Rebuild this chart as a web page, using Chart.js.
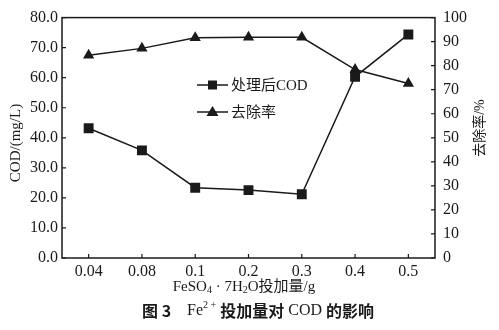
<!DOCTYPE html>
<html><head><meta charset="utf-8">
<script src="https://cdn.jsdelivr.net/npm/chart.js@4"></script>
<style>html,body{margin:0;padding:0;background:#fff}canvas{display:block}</style>
</head><body>
<canvas id="c" width="499" height="330"></canvas>
<script>
const categories = ['0.04', '0.08', '0.1', '0.2', '0.3', '0.4', '0.5'];
const codValues = [43.2, 35.8, 23.4, 22.6, 21.2, 60.3, 74.4];
const removalRates = [84.3, 87.2, 91.6, 91.8, 91.8, 78.4, 72.6];
const codLabel = '处理后COD';
const rateLabel = '去除率';
const leftTitle = 'COD/(mg/L)';
const rightTitle = '去除率/%';

const SERIF = "'Liberation Serif','Noto Sans CJK SC',serif";
const INK = '#1a1a1a';

function drawRuns(ctx, runs, cx, y) {
  let total = 0;
  const ws = runs.map(r => { ctx.font = r[1]; const w = ctx.measureText(r[0]).width; total += w; return w; });
  let x = cx - total / 2;
  ctx.textAlign = 'left'; ctx.textBaseline = 'middle';
  runs.forEach((r, i) => { ctx.font = r[1]; ctx.fillText(r[0], x, y + (r[2] || 0)); x += ws[i]; });
}

const decor = {
  id: 'decor',
  afterDraw(chart) {
    const ctx = chart.ctx, ca = chart.chartArea;
    ctx.save();
    ctx.strokeStyle = INK; ctx.fillStyle = INK; ctx.lineWidth = 1.5;
    ctx.strokeRect(ca.left, ca.top, ca.right - ca.left, ca.bottom - ca.top);
    ctx.lineWidth = 1.2;
    const xs = chart.scales.x, y = chart.scales.y, y1 = chart.scales.y1;
    ctx.beginPath();
    categories.forEach((c, i) => { const px = xs.getPixelForValue(i); ctx.moveTo(px, ca.bottom); ctx.lineTo(px, ca.bottom - 4); });
    y.ticks.forEach(t => { const py = y.getPixelForValue(t.value); ctx.moveTo(ca.left, py); ctx.lineTo(ca.left + 4, py); });
    y1.ticks.forEach(t => { const py = y1.getPixelForValue(t.value); ctx.moveTo(ca.right, py); ctx.lineTo(ca.right - 4, py); });
    ctx.stroke();

    // legend
    const rows = [[0, 85], [1, 112]];
    rows.forEach(([di, ly]) => {
      const ds = chart.data.datasets[di];
      ctx.lineWidth = 1.5; ctx.strokeStyle = INK;
      ctx.beginPath(); ctx.moveTo(197, ly); ctx.lineTo(228, ly); ctx.stroke();
      ctx.fillStyle = INK;
      if (ds.pointStyle === 'rect') { ctx.fillRect(208, ly - 4.5, 9, 9); }
      else { ctx.beginPath(); ctx.moveTo(212.5, ly - 6); ctx.lineTo(218.5, ly + 4); ctx.lineTo(206.5, ly + 4); ctx.closePath(); ctx.fill(); }
      ctx.font = '15px ' + SERIF; ctx.textAlign = 'left'; ctx.textBaseline = 'middle';
      ctx.fillText(ds.label, 231, ly + 1);
    });

    // axis titles
    ctx.fillStyle = INK;
    ctx.save(); ctx.translate(16, 143); ctx.rotate(-Math.PI / 2);
    ctx.font = '15px ' + SERIF; ctx.textAlign = 'center'; ctx.textBaseline = 'middle';
    ctx.fillText(leftTitle, 0, 0); ctx.restore();
    ctx.save(); ctx.translate(480, 128); ctx.rotate(-Math.PI / 2);
    ctx.font = '14px ' + SERIF; ctx.textAlign = 'center'; ctx.textBaseline = 'middle';
    ctx.fillText(rightTitle, 0, 0); ctx.restore();

    const f = '15px ' + SERIF, fs = '10px ' + SERIF;
    drawRuns(ctx, [['FeSO', f], ['4', fs, 3], [' · 7H', f], ['2', fs, 3], ['O投加量/g', f]], 244, 287);

    const bc = "bold 16px 'Noto Sans CJK SC',sans-serif", lf = '16px ' + SERIF, sup = '10px ' + SERIF;
    drawRuns(ctx, [['图 3', bc], ['    Fe', lf], ['2 +', sup, -6], [' ', lf], ['投加量对', bc], [' COD ', lf], ['的影响', bc]], 258, 311);
    ctx.restore();
  }
};

new Chart(document.getElementById('c'), {
  type: 'line',
  data: {
    labels: categories,
    datasets: [
      { label: codLabel, data: codValues, yAxisID: 'y', borderColor: INK, backgroundColor: INK, borderWidth: 1.5,
        pointStyle: 'rect', pointRadius: 7, pointBorderWidth: 0, tension: 0 },
      { label: rateLabel, data: removalRates, yAxisID: 'y1', borderColor: INK, backgroundColor: INK, borderWidth: 1.5,
        pointStyle: 'triangle', pointRadius: 6.5, pointBorderWidth: 0, tension: 0 }
    ]
  },
  options: {
    responsive: false, animation: false, devicePixelRatio: 1,
    layout: { padding: { top: 14, left: 0, right: 0, bottom: 0 } },
    plugins: { legend: { display: false }, tooltip: { enabled: false }, title: { display: false } },
    scales: {
      x: {
        type: 'category', offset: true,
        grid: { display: false, drawTicks: false }, border: { display: false },
        ticks: { color: INK, font: { family: SERIF, size: 16 }, padding: 4, maxRotation: 0 },
        afterFit(s) { s.height = 72; }
      },
      y: {
        position: 'left', min: 0, max: 80,
        grid: { display: false, drawTicks: false }, border: { display: false },
        ticks: { stepSize: 10, color: INK, font: { family: SERIF, size: 16 }, padding: 4, callback: v => Number(v).toFixed(1) },
        afterFit(s) { s.width = 62; }
      },
      y1: {
        position: 'right', min: 0, max: 100,
        grid: { display: false, drawTicks: false }, border: { display: false },
        ticks: { stepSize: 10, color: INK, font: { family: SERIF, size: 16 }, padding: 8 },
        afterFit(s) { s.width = 64; }
      }
    }
  },
  plugins: [decor]
});
</script>
</body></html>
